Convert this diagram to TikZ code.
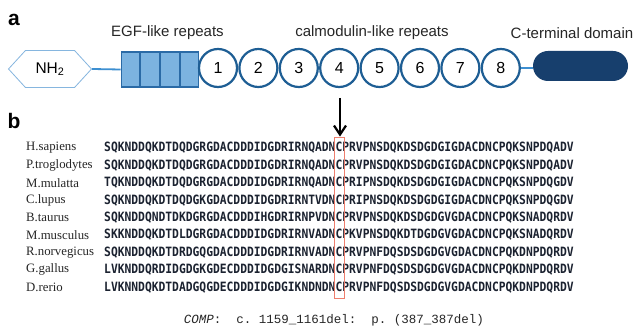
\documentclass[tikz,border=0pt]{standalone}
\usepackage{fontspec}
\setmainfont{Liberation Sans}
\newfontfamily\namefont{Liberation Serif}
\newfontfamily\seqfont{DejaVu Sans Mono}
\newfontfamily\compfont{Liberation Mono}
\usepackage{tikz}
\usetikzlibrary{positioning,shapes.symbols,calc,arrows.meta}

\definecolor{hexblue}{HTML}{86B6DF}
\definecolor{linkblue}{HTML}{3D8FD1}
\definecolor{egffill}{HTML}{7CB3E0}
\definecolor{egfdraw}{HTML}{2A6AA6}
\definecolor{calmblue}{HTML}{1E5E94}
\definecolor{ctermblue}{HTML}{173F6D}
\definecolor{seqink}{HTML}{1B2230}
\definecolor{mutred}{HTML}{EE7F6E}
\definecolor{labgray}{HTML}{262626}

\tikzset{
	hexa/.style={signal, signal to=west and east, signal pointer angle=95, draw=hexblue, line width=0.8pt, minimum width=83pt, minimum height=37pt, inner sep=0pt, font=\fontsize{15.5}{18}\selectfont},
	egfbox/.style={rectangle, draw=egfdraw, fill=egffill, line width=1.8pt, minimum width=77pt, minimum height=35pt, inner sep=0pt},
	calm/.style={circle, draw=calmblue, fill=white, line width=2.2pt, minimum size=38pt, inner sep=0pt, font=\fontsize{16}{18}\selectfont},
	cterm/.style={rectangle, rounded corners=15pt, fill=ctermblue, minimum width=95pt, minimum height=30pt, inner sep=0pt},
	link/.style={draw=linkblue, line width=1.8pt},
	domlabel/.style={text=labgray, inner sep=0pt, font=\fontsize{15}{18}\selectfont},
	panel/.style={inner sep=0pt, font=\fontsize{21}{24}\bfseries\selectfont},
	species/.style={anchor=west, inner sep=0pt, text=labgray, font=\namefont\fontsize{12.8}{14}\selectfont},
	seq/.style={anchor=west, inner sep=0pt, text=seqink, font=\seqfont\bfseries\fontsize{12.8}{14}\selectfont},
}
\newcommand{\aln}[1]{\scalebox{0.883}[1]{#1}}

\begin{document}
\begin{tikzpicture}[x=1pt,y=-1pt,node distance=40.4pt,on grid]
	\useasboundingbox[fill=white] (0,0) rectangle (641,331);

	\node[panel] (pa) at (14,20) {a};
	\node[panel] (pb) at (14,121) {b};

	\node[hexa] (nh2) at (50,69) {NH\textsubscript{2}};
	\node[egfbox] (egf) at (160,69.5) {};
	\foreach \k in {1,2,3}
		\draw[draw=egfdraw, line width=1.8pt] ($(egf.north west)!\k/4!(egf.north east)$) -- ($(egf.south west)!\k/4!(egf.south east)$);
	\node[calm] (c1) at (218,68) {1};
	\node[calm] (c2) [right=of c1] {2};
	\node[calm] (c3) [right=of c2] {3};
	\node[calm] (c4) [right=of c3] {4};
	\node[calm] (c5) [right=of c4] {5};
	\node[calm] (c6) [right=of c5] {6};
	\node[calm] (c7) [right=of c6] {7};
	\node[calm] (c8) [right=of c7] {8};
	\node[cterm] (ct) at (580.5,66) {};
	\path[link] (nh2.east) -- (egf.west);
	\path[link] (c8.east) -- (c8.east -| ct.west);

	\node[domlabel] (legf) at (167.5,33) {EGF-like repeats};
	\node[domlabel] (lcalm) at (372,33) {calmodulin-like repeats};
	\node[domlabel] (lct) at (572,33) {C-terminal domain};

	\node[species] (s1) at (26,148) {H.sapiens};
	\node[species] (s2) [below=17.4pt of s1.west, anchor=west] {P.troglodytes};
	\node[species] (s3) [below=17.4pt of s2.west, anchor=west] {M.mulatta};
	\node[species] (s4) [below=17.4pt of s3.west, anchor=west] {C.lupus};
	\node[species] (s5) [below=17.4pt of s4.west, anchor=west] {B.taurus};
	\node[species] (s6) [below=17.4pt of s5.west, anchor=west] {M.musculus};
	\node[species] (s7) [below=17.4pt of s6.west, anchor=west] {R.norvegicus};
	\node[species] (s8) [below=17.4pt of s7.west, anchor=west] {G.gallus};
	\node[species] (s9) [below=17.4pt of s8.west, anchor=west] {D.rerio};

	\node[seq] (q1) at (s1.west -| 104,0) {\aln{SQKNDDQKDTDQDGRGDACDDDIDGDRIRNQADNCPRVPNSDQKDSDGDGIGDACDNCPQKSNPDQADV}};
	\node[seq] (q2) at (s2.west -| 104,0) {\aln{SQKNDDQKDTDQDGRGDACDDDIDGDRIRNQADNCPRVPNSDQKDSDGDGIGDACDNCPQKSNPDQADV}};
	\node[seq] (q3) at (s3.west -| 104,0) {\aln{TQKNDDQKDTDQDGRGDACDDDIDGDRIRNQADNCPRIPNSDQKDSDGDGIGDACDNCPQKSNPDQGDV}};
	\node[seq] (q4) at (s4.west -| 104,0) {\aln{SQKNDDQKDTDQDGKGDACDDDIDGDRIRNTVDNCPRIPNSDQKDSDGDGIGDACDNCPQKSNPDQGDV}};
	\node[seq] (q5) at (s5.west -| 104,0) {\aln{SQKNDDQNDTDKDGRGDACDDDIHGDRIRNPVDNCPRVPNSDQKDSDGDGVGDACDNCPQKSNADQRDV}};
	\node[seq] (q6) at (s6.west -| 104,0) {\aln{SKKNDDQKDTDLDGRGDACDDDIDGDRIRNVADNCPKVPNSDQKDTDGDGVGDACDNCPQKSNADQRDV}};
	\node[seq] (q7) at (s7.west -| 104,0) {\aln{SQKNDDQKDTDRDGQGDACDDDIDGDRIRNVADNCPRVPNFDQSDSDGDGVGDACDNCPQKDNPDQRDV}};
	\node[seq] (q8) at (s8.west -| 104,0) {\aln{LVKNDDQRDIDGDGKGDECDDDIDGDGISNARDNCPRVPNFDQSDSDGDGVGDACDNCPQKDNPDQRDV}};
	\node[seq] (q9) at (s9.west -| 104,0) {\aln{LVKNNDQKDTDADGQGDECDDDIDGDGIKNDNDNCPRVPNFDQSDSDGDGVGDACDNCPQKDNPDQRDV}};

	\node[draw=mutred, line width=0.9pt, minimum width=10pt, minimum height=161pt, inner sep=0pt] (mut) at (339.5,217.5) {};
	\draw[-{Straight Barb[length=9pt,width=12pt]}, line width=2.2pt] (340,98) coordinate (arr) -- (mut.north -| arr);

	\node[inner sep=0pt, text=labgray, font=\compfont\fontsize{12.5}{14}\selectfont] (comp) at (334,320) {\textit{COMP}:\ \ c.\ 1159\_1161del:\ \ p.\ (387\_387del)};
\end{tikzpicture}
\end{document}
